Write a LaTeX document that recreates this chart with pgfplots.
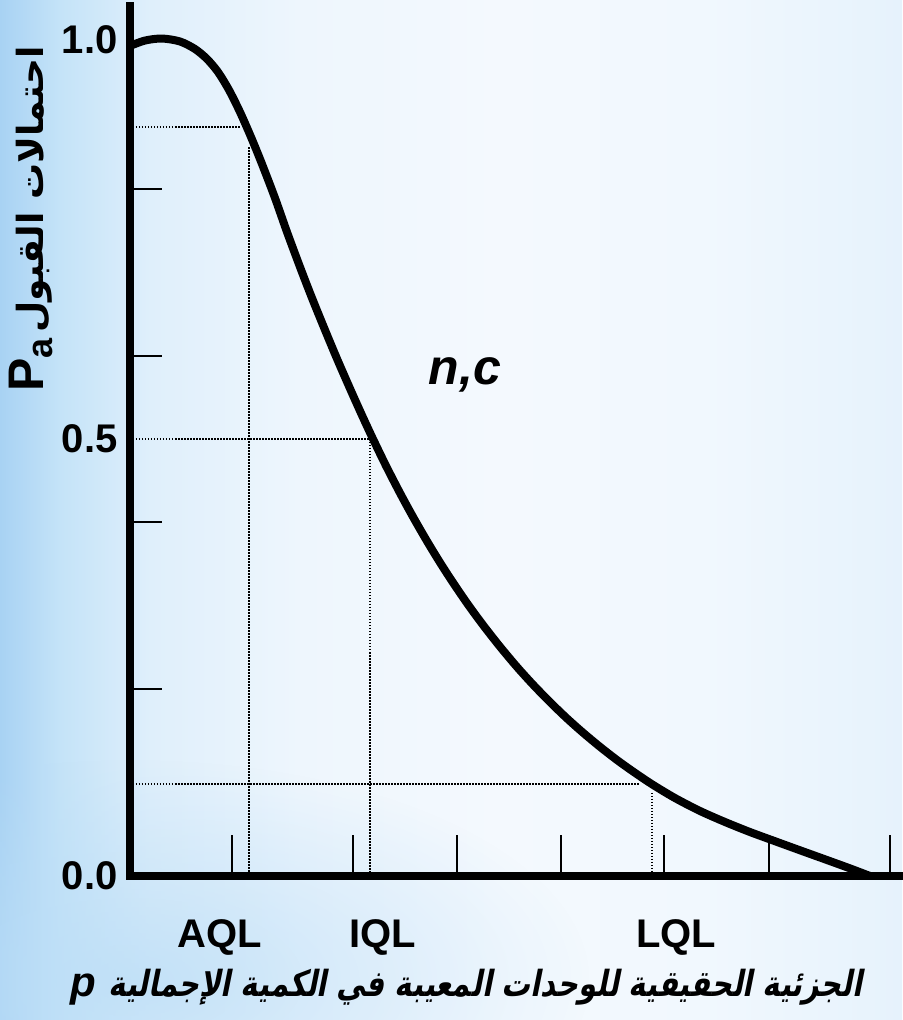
\documentclass[border=0pt]{standalone}
\usepackage{fontspec}
\usepackage{pgfplots}
\pgfplotsset{compat=1.18}
\usetikzlibrary{fadings}
\setmainfont{Liberation Sans}
\TeXXeTstate=1
\newfontfamily\arabicfont[Script=Arabic]{DejaVu Sans}
\newfontfamily\arabicslant[Script=Arabic,BoldFeatures={FakeSlant=0.2,FakeStretch=0.8}]{DejaVu Sans}

% page background colours (left to right)
\definecolor{bgA}{RGB}{168,210,243}
\definecolor{bgB}{RGB}{196,227,248}
\definecolor{bgC}{RGB}{223,239,251}
\definecolor{bgD}{RGB}{238,246,253}
\definecolor{bgE}{RGB}{244,249,254}
\definecolor{bgF}{RGB}{241,248,254}
\definecolor{bgG}{RGB}{230,242,252}
\definecolor{glow}{RGB}{188,222,247}
\pgfdeclarehorizontalshading{pagebg}{100bp}{color(0bp)=(bgA); color(25bp)=(bgA);
  color(28.3bp)=(bgB); color(33.3bp)=(bgC); color(41.6bp)=(bgD);
  color(52.7bp)=(bgE); color(63.8bp)=(bgF); color(75bp)=(bgG); color(100bp)=(bgG)}
\tikzfading[name=glowfade, inner color=transparent!0, outer color=transparent!100]

\begin{document}
\begin{tikzpicture}
\path[use as bounding box] (-65pt,-72pt) rectangle (386pt,438pt);
\shade[shading=pagebg] (-65pt,-72pt) rectangle (386pt,438pt);
\fill[glow, opacity=0.8, path fading=glowfade] (0pt,-52pt) ellipse (230pt and 110pt);

\begin{axis}[
  x=50pt, y=437pt,
  xmin=0, xmax=7.72, ymin=0, ymax=0.995,
  clip=false, axis on top,
  axis x line=bottom, axis y line=left,
  axis line style={line width=4pt, -, line cap=rect, black},
  tick align=inside,
  major tick length=0pt,
  xtick={0.90,2.53,5.46}, xticklabels={AQL,IQL,LQL},
  ytick={0,0.5,0.9565}, yticklabels={0.0,0.5,1.0},
  extra x ticks={1.02,2.23,3.27,4.31,5.34,6.39,7.60},
  extra x tick labels={},
  extra x tick style={major tick length=20.5pt, tick style={line width=1pt, black}},
  extra y ticks={0.214,0.405,0.595,0.786},
  extra y tick labels={},
  extra y tick style={major tick length=16pt, tick style={line width=1pt, black}},
  xticklabel style={font=\fontsize{20}{24}\selectfont\bfseries, anchor=center, yshift=-30.5pt},
  yticklabel style={font=\fontsize{20}{24}\selectfont\bfseries, anchor=east, inner sep=0pt, xshift=-6pt},
  xlabel={{\fontsize{21}{24}\selectfont\bfseries\itshape p}\hspace{6pt}{\fontsize{18}{22}\selectfont\arabicslant\bfseries\beginR الجزئية الحقيقية للوحدات المعيبة في الكمية الإجمالية\endR}},
  xlabel style={at={(axis description cs:0.436,-0.1276)}, anchor=center},
  ylabel={{\fontsize{25}{30}\selectfont\bfseries P\raisebox{-0.35ex}{\fontsize{18}{20}\selectfont a}}\hspace{3pt}{\fontsize{18}{22}\selectfont\arabicfont\bfseries\beginR احتمالات القبول\endR}},
  ylabel style={at={(axis description cs:-0.128,0.7555)}, anchor=center},
]
% operating characteristic curve
\addplot[black, line width=4pt, smooth] coordinates {
  (0,0.9497) (0.15,0.9559) (0.32,0.9582) (0.50,0.9548) (0.65,0.9462)
  (0.77,0.9348) (0.88,0.9199) (0.99,0.8993) (1.10,0.8741) (1.21,0.8455)
  (1.32,0.8146) (1.45,0.7757) (1.57,0.7368) (1.70,0.6968) (1.82,0.6613)
  (1.95,0.6247) (2.07,0.5918) (2.20,0.5577) (2.32,0.5271) (2.43,0.5000)
  (2.56,0.4693) (2.70,0.4382) (2.83,0.4109) (2.97,0.3831) (3.10,0.3587)
  (3.23,0.3357) (3.38,0.3106) (3.53,0.2872) (3.70,0.2624) (3.87,0.2392)
  (4.03,0.2190) (4.20,0.1990) (4.37,0.1803) (4.53,0.1640) (4.70,0.1478)
  (4.87,0.1327) (5.03,0.1196) (5.22,0.1050) (5.45,0.0892) (5.70,0.0744)
  (5.95,0.0618) (6.20,0.0503) (6.45,0.0398) (6.70,0.0294) (6.95,0.0191)
  (7.20,0.0087) (7.40,0)
};
% reference lines for AQL, IQL and LQL
\pgfplotsset{refline/.style={black, line width=0.75pt, dash pattern=on 0.75pt off 0.75pt}}
\addplot[refline] coordinates {(0,0.857) (1.10,0.857)};
\addplot[refline] coordinates {(1.19,0.834) (1.19,0)};
\addplot[refline] coordinates {(0,0.5) (2.42,0.5)};
\addplot[refline] coordinates {(2.40,0.5) (2.40,0)};
\addplot[refline] coordinates {(0,0.1053) (5.10,0.1053)};
\addplot[refline] coordinates {(5.22,0.095) (5.22,0)};
\node[font=\fontsize{25}{30}\selectfont\bfseries\itshape, anchor=base] at (axis cs:3.35,0.5618) {n,c};
\end{axis}
\end{tikzpicture}
\end{document}
